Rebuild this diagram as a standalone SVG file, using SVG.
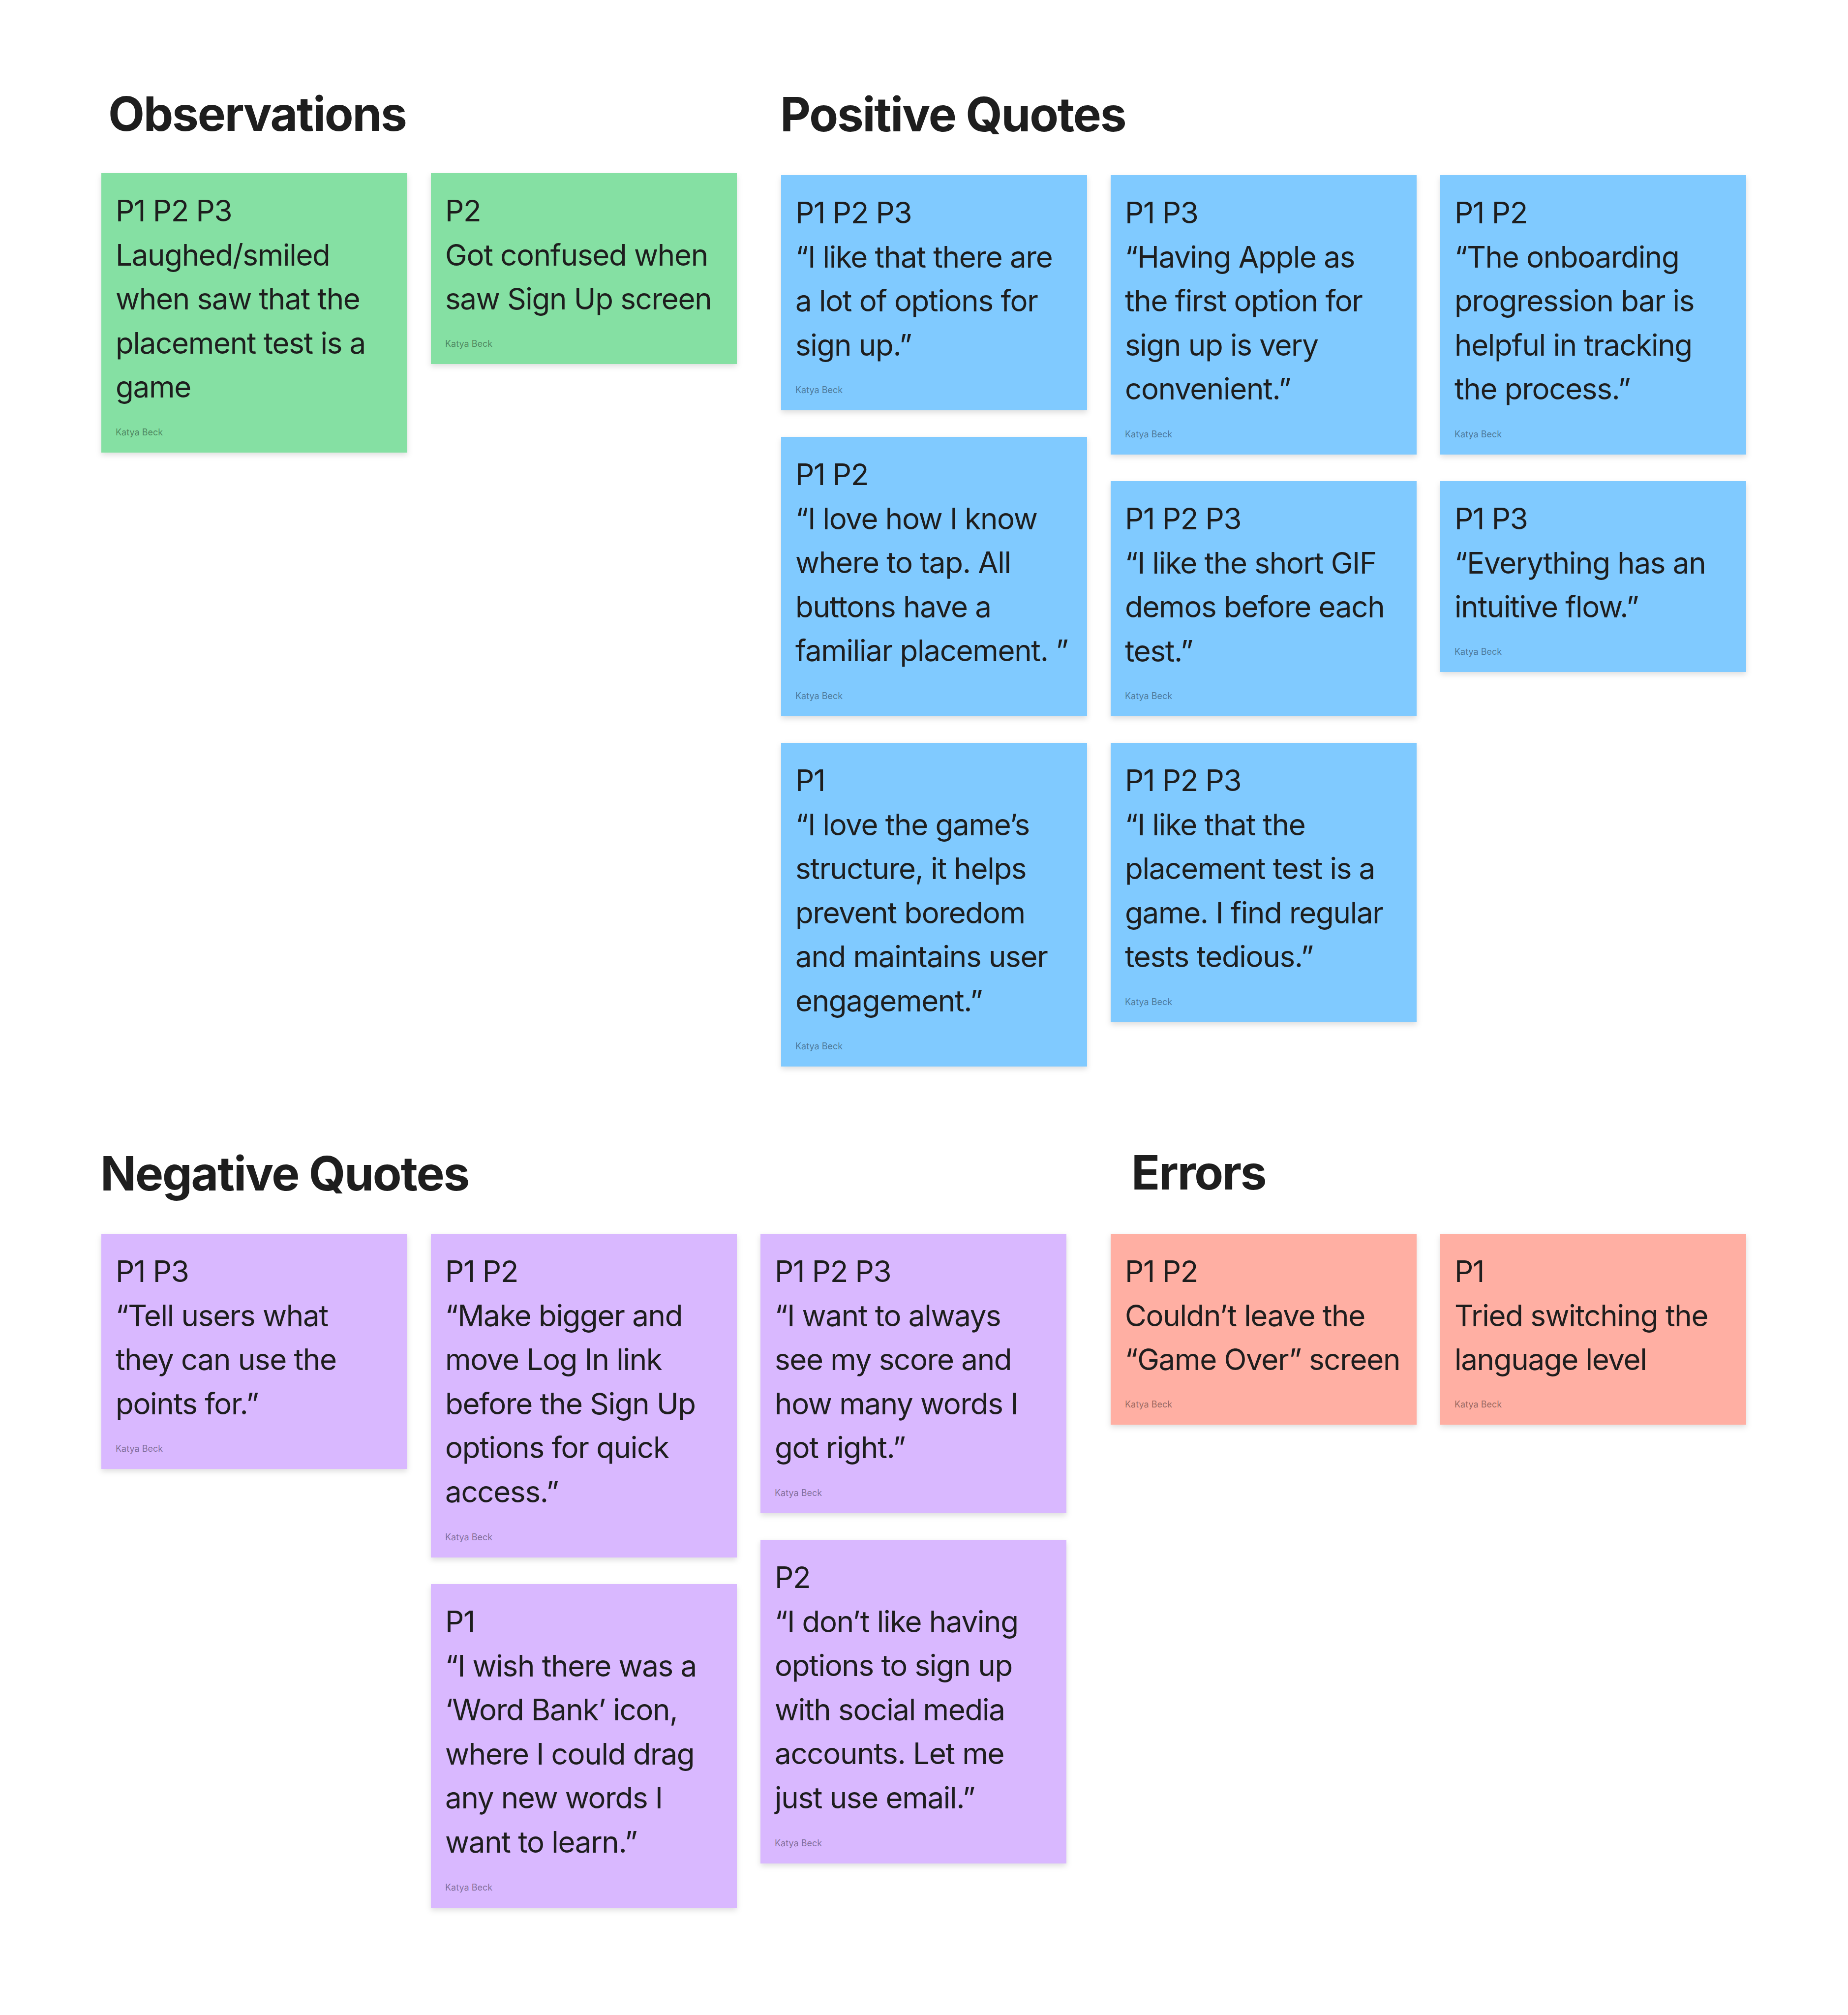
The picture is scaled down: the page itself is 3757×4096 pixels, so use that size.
<svg xmlns="http://www.w3.org/2000/svg" width="3757" height="4096" viewBox="0 0 3757 4096">
<defs>
<filter id="sh" x="-10%" y="-10%" width="120%" height="125%">
<feDropShadow dx="0" dy="5" stdDeviation="6" flood-color="#000" flood-opacity="0.13"/>
</filter>
</defs>
<style>
.h{font-family:Inter,"Liberation Sans",sans-serif;font-weight:700;font-size:96px;letter-spacing:-2.2px;fill:#1E1E1E}
.t{font-family:Inter,"Liberation Sans",sans-serif;font-weight:400;font-size:60px;letter-spacing:-1.3px;fill:#1E1E1E}
.a{font-family:Inter,"Liberation Sans",sans-serif;font-weight:400;font-size:18px;fill:#000;fill-opacity:0.42}
.g{fill:#85E0A3}
.b{fill:#80CAFF}
.v{fill:#D9B8FF}
.r{fill:#FFAFA3}
.c{filter:url(#sh)}
</style>
<rect width="3757" height="4096" fill="#FFFFFF"/>
<g id="headings">
<text class="h" x="220" y="266">Observations</text>
<text class="h" x="1586" y="267">Positive Quotes</text>
<text class="h" x="204" y="2420">Negative Quotes</text>
<text class="h" x="2300" y="2418">Errors</text>
</g>
<g id="connectors"></g>

<g id="obs1">
<rect class="g c" x="206" y="352" width="622" height="568"/>
<text class="t" x="235" y="450">P1 P2 P3</text>
<text class="t" x="235" y="539.5">Laughed/smiled</text>
<text class="t" x="235" y="629">when saw that the</text>
<text class="t" x="235" y="718.5">placement test is a</text>
<text class="t" x="235" y="808">game</text>
<text class="a" x="235" y="885">Katya Beck</text>
</g>
<g id="obs2">
<rect class="g c" x="876" y="352" width="622" height="388"/>
<text class="t" x="905" y="450">P2</text>
<text class="t" x="905" y="539.5">Got confused when</text>
<text class="t" x="905" y="629">saw Sign Up screen</text>
<text class="a" x="905" y="705">Katya Beck</text>
</g>

<g id="pos1">
<rect class="b c" x="1588" y="356" width="622" height="478"/>
<text class="t" x="1617" y="454">P1 P2 P3</text>
<text class="t" x="1617" y="543.5">“I like that there are</text>
<text class="t" x="1617" y="633">a lot of options for</text>
<text class="t" x="1617" y="722.5">sign up.”</text>
<text class="a" x="1617" y="799">Katya Beck</text>
</g>
<g id="pos2">
<rect class="b c" x="2258" y="356" width="622" height="568"/>
<text class="t" x="2287" y="454">P1 P3</text>
<text class="t" x="2287" y="543.5">“Having Apple as</text>
<text class="t" x="2287" y="633">the first option for</text>
<text class="t" x="2287" y="722.5">sign up is very</text>
<text class="t" x="2287" y="812">convenient.”</text>
<text class="a" x="2287" y="889">Katya Beck</text>
</g>
<g id="pos3">
<rect class="b c" x="2928" y="356" width="622" height="568"/>
<text class="t" x="2957" y="454">P1 P2</text>
<text class="t" x="2957" y="543.5">“The onboarding</text>
<text class="t" x="2957" y="633">progression bar is</text>
<text class="t" x="2957" y="722.5">helpful in tracking</text>
<text class="t" x="2957" y="812">the process.”</text>
<text class="a" x="2957" y="889">Katya Beck</text>
</g>
<g id="pos4">
<rect class="b c" x="1588" y="888" width="622" height="568"/>
<text class="t" x="1617" y="986">P1 P2</text>
<text class="t" x="1617" y="1075.5">“I love how I know</text>
<text class="t" x="1617" y="1165">where to tap. All</text>
<text class="t" x="1617" y="1254.5">buttons have a</text>
<text class="t" x="1617" y="1344">familiar placement. ”</text>
<text class="a" x="1617" y="1421">Katya Beck</text>
</g>
<g id="pos5">
<rect class="b c" x="2258" y="978" width="622" height="478"/>
<text class="t" x="2287" y="1076">P1 P2 P3</text>
<text class="t" x="2287" y="1165.5">“I like the short GIF</text>
<text class="t" x="2287" y="1255">demos before each</text>
<text class="t" x="2287" y="1344.5">test.”</text>
<text class="a" x="2287" y="1421">Katya Beck</text>
</g>
<g id="pos6">
<rect class="b c" x="2928" y="978" width="622" height="388"/>
<text class="t" x="2957" y="1076">P1 P3</text>
<text class="t" x="2957" y="1165.5">“Everything has an</text>
<text class="t" x="2957" y="1255">intuitive flow.”</text>
<text class="a" x="2957" y="1331">Katya Beck</text>
</g>
<g id="pos7">
<rect class="b c" x="1588" y="1510" width="622" height="658"/>
<text class="t" x="1617" y="1608">P1</text>
<text class="t" x="1617" y="1697.5">“I love the game’s</text>
<text class="t" x="1617" y="1787">structure, it helps</text>
<text class="t" x="1617" y="1876.5">prevent boredom</text>
<text class="t" x="1617" y="1966">and maintains user</text>
<text class="t" x="1617" y="2055.5">engagement.”</text>
<text class="a" x="1617" y="2133">Katya Beck</text>
</g>
<g id="pos8">
<rect class="b c" x="2258" y="1510" width="622" height="568"/>
<text class="t" x="2287" y="1608">P1 P2 P3</text>
<text class="t" x="2287" y="1697.5">“I like that the</text>
<text class="t" x="2287" y="1787">placement test is a</text>
<text class="t" x="2287" y="1876.5">game. I find regular</text>
<text class="t" x="2287" y="1966">tests tedious.”</text>
<text class="a" x="2287" y="2043">Katya Beck</text>
</g>

<g id="neg1">
<rect class="v c" x="206" y="2508" width="622" height="478"/>
<text class="t" x="235" y="2606">P1 P3</text>
<text class="t" x="235" y="2695.5">“Tell users what</text>
<text class="t" x="235" y="2785">they can use the</text>
<text class="t" x="235" y="2874.5">points for.”</text>
<text class="a" x="235" y="2951">Katya Beck</text>
</g>
<g id="neg2">
<rect class="v c" x="876" y="2508" width="622" height="658"/>
<text class="t" x="905" y="2606">P1 P2</text>
<text class="t" x="905" y="2695.5">“Make bigger and</text>
<text class="t" x="905" y="2785">move Log In link</text>
<text class="t" x="905" y="2874.5">before the Sign Up</text>
<text class="t" x="905" y="2964">options for quick</text>
<text class="t" x="905" y="3053.5">access.”</text>
<text class="a" x="905" y="3131">Katya Beck</text>
</g>
<g id="neg3">
<rect class="v c" x="1546" y="2508" width="622" height="568"/>
<text class="t" x="1575" y="2606">P1 P2 P3</text>
<text class="t" x="1575" y="2695.5">“I want to always</text>
<text class="t" x="1575" y="2785">see my score and</text>
<text class="t" x="1575" y="2874.5">how many words I</text>
<text class="t" x="1575" y="2964">got right.”</text>
<text class="a" x="1575" y="3041">Katya Beck</text>
</g>
<g id="neg4">
<rect class="v c" x="876" y="3220" width="622" height="658"/>
<text class="t" x="905" y="3318">P1</text>
<text class="t" x="905" y="3407.5">“I wish there was a</text>
<text class="t" x="905" y="3497">‘Word Bank’ icon,</text>
<text class="t" x="905" y="3586.5">where I could drag</text>
<text class="t" x="905" y="3676">any new words I</text>
<text class="t" x="905" y="3765.5">want to learn.”</text>
<text class="a" x="905" y="3843">Katya Beck</text>
</g>
<g id="neg5">
<rect class="v c" x="1546" y="3130" width="622" height="658"/>
<text class="t" x="1575" y="3228">P2</text>
<text class="t" x="1575" y="3317.5">“I don’t like having</text>
<text class="t" x="1575" y="3407">options to sign up</text>
<text class="t" x="1575" y="3496.5">with social media</text>
<text class="t" x="1575" y="3586">accounts. Let me</text>
<text class="t" x="1575" y="3675.5">just use email.”</text>
<text class="a" x="1575" y="3753">Katya Beck</text>
</g>

<g id="err1">
<rect class="r c" x="2258" y="2508" width="622" height="388"/>
<text class="t" x="2287" y="2606">P1 P2</text>
<text class="t" x="2287" y="2695.5">Couldn’t leave the</text>
<text class="t" x="2287" y="2785">“Game Over” screen</text>
<text class="a" x="2287" y="2861">Katya Beck</text>
</g>
<g id="err2">
<rect class="r c" x="2928" y="2508" width="622" height="388"/>
<text class="t" x="2957" y="2606">P1</text>
<text class="t" x="2957" y="2695.5">Tried switching the</text>
<text class="t" x="2957" y="2785">language level</text>
<text class="a" x="2957" y="2861">Katya Beck</text>
</g>
</svg>
